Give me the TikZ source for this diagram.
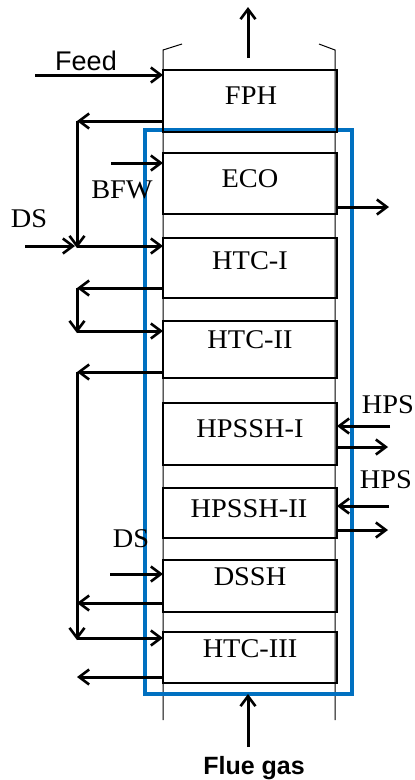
\documentclass[tikz,border=0pt]{standalone}
\usepackage{fontspec}
\setmainfont[FakeStretch=1.05]{Liberation Serif}
\newfontfamily\arialfont{Liberation Sans}
\usetikzlibrary{arrows.meta}
\definecolor{frameblue}{RGB}{0,112,192}
\begin{document}
\begin{tikzpicture}[x=1pt,y=-1pt,
  box/.style={draw=black,line width=2.5pt,minimum width=174pt,outer sep=0pt,inner sep=0pt,anchor=north west},
  lbl/.style={font=\fontsize{27}{27}\selectfont,inner sep=0pt,anchor=base},
  arr/.style={line width=3pt,-{Straight Barb[length=10pt,width=15pt,line width=2.6pt]}},
  col/.style={line width=1pt}]
\useasboundingbox (0,0) rectangle (415,780);
% column walls
\draw[col] (182,44) -- (163,50) -- (163,720);
\draw[col] (319,44) -- (335,50) -- (335,720);
% blue frame
\node[draw=frameblue,line width=4pt,minimum width=207pt,minimum height=564pt,anchor=north west,outer sep=0pt,inner sep=0pt] (frame) at (145,130) {};
% boxes
\node[box,minimum height=62pt] (fph) at (163,70) {};
\node[box,minimum height=61pt] (eco) at (163,153) {};
\node[box,minimum height=60pt] (htc1) at (163,238) {};
\node[box,minimum height=57pt] (htc2) at (163,321) {};
\node[box,minimum height=62pt] (hpssh1) at (163,403) {};
\node[box,minimum height=50pt] (hpssh2) at (163,488) {};
\node[box,minimum height=52pt] (dssh) at (163,560) {};
\node[box,minimum height=51pt] (htc3) at (163,632) {};
% box texts
\node[lbl] (tfph) at (251,104) {FPH};
\node[lbl] (teco) at (250,187) {ECO};
\node[lbl] (thtc1) at (250,269) {HTC-I};
\node[lbl] (thtc2) at (250,348) {HTC-II};
\node[lbl] (thpssh1) at (250,437) {HPSSH-I};
\node[lbl] (thpssh2) at (249,517) {HPSSH-II};
\node[lbl] (tdssh) at (250,585) {DSSH};
\node[lbl] (thtc3) at (250,657) {HTC-III};
% outer labels
\node[lbl,font=\arialfont\fontsize{27}{27}\selectfont] (feed) at (86,70) {Feed};
\node[lbl] (bfw) at (122,198) {BFW};
\node[lbl] (ds1) at (29,227) {DS};
\node[lbl] (ds2) at (131,547) {DS};
\node[lbl] (hps1) at (388,413) {HPS};
\node[lbl] (hps2) at (386,488) {HPS};
\node[lbl,font=\arialfont\bfseries\fontsize{25}{25}\selectfont] (flue) at (254,774) {Flue gas};
% coordinates
\coordinate (top0) at (248,58);
\coordinate (top1) at (248,7);
\coordinate (flue0) at (248,747);
\coordinate (feed0) at (35,75);
\coordinate (j1) at (77,121);
\coordinate (j2) at (77,246);
\coordinate (ds0) at (25,246);
\coordinate (bfw0) at (111,163);
\coordinate (eco1) at (389,207);
\coordinate (j3) at (77,288);
\coordinate (j4) at (77,331);
\coordinate (j5) at (77,372);
\coordinate (j6) at (77,638);
\coordinate (j7) at (77,603);
\coordinate (j8) at (77,677);
\coordinate (ds20) at (110,574);
\coordinate (hps1a) at (390,426);
\coordinate (hps1b) at (388,447);
\coordinate (hps2a) at (389,506);
\coordinate (hps2b) at (388,530);
% arrows
\draw[arr] (top0) -- (top1);
\draw[arr] (flue0) -- (frame.south -| flue0);
\draw[arr] (feed0) -- (fph.west |- feed0);
\draw[arr] (fph.west |- j1) -- (j1);
\draw[arr] (j1) -- ([yshift=-2pt]j2);
\draw[arr] (ds0) -- ([xshift=-2pt]j2);
\draw[arr] (j2) -- (htc1.west |- j2);
\draw[arr] (bfw0) -- (eco.west |- bfw0);
\draw[arr] (eco.east |- eco1) -- (eco1);
\draw[arr] (htc1.west |- j3) -- (j3);
\draw[arr] (j3) -- ([yshift=-2pt]j4);
\draw[arr] (j4) -- (htc2.west |- j4);
\draw[arr] (htc2.west |- j5) -- (j5);
\draw[arr] (j5) -- ([yshift=-2pt]j6);
\draw[arr] (j6) -- (htc3.west |- j6);
\draw[arr] (dssh.west |- j7) -- (j7);
\draw[arr] (htc3.west |- j8) -- (j8);
\draw[arr] (ds20) -- (dssh.west |- ds20);
\draw[arr] (hps1a) -- (hpssh1.east |- hps1a);
\draw[arr] (hpssh1.east |- hps1b) -- (hps1b);
\draw[arr] (hps2a) -- (hpssh2.east |- hps2a);
\draw[arr] (hpssh2.east |- hps2b) -- (hps2b);
\end{tikzpicture}
\end{document}
